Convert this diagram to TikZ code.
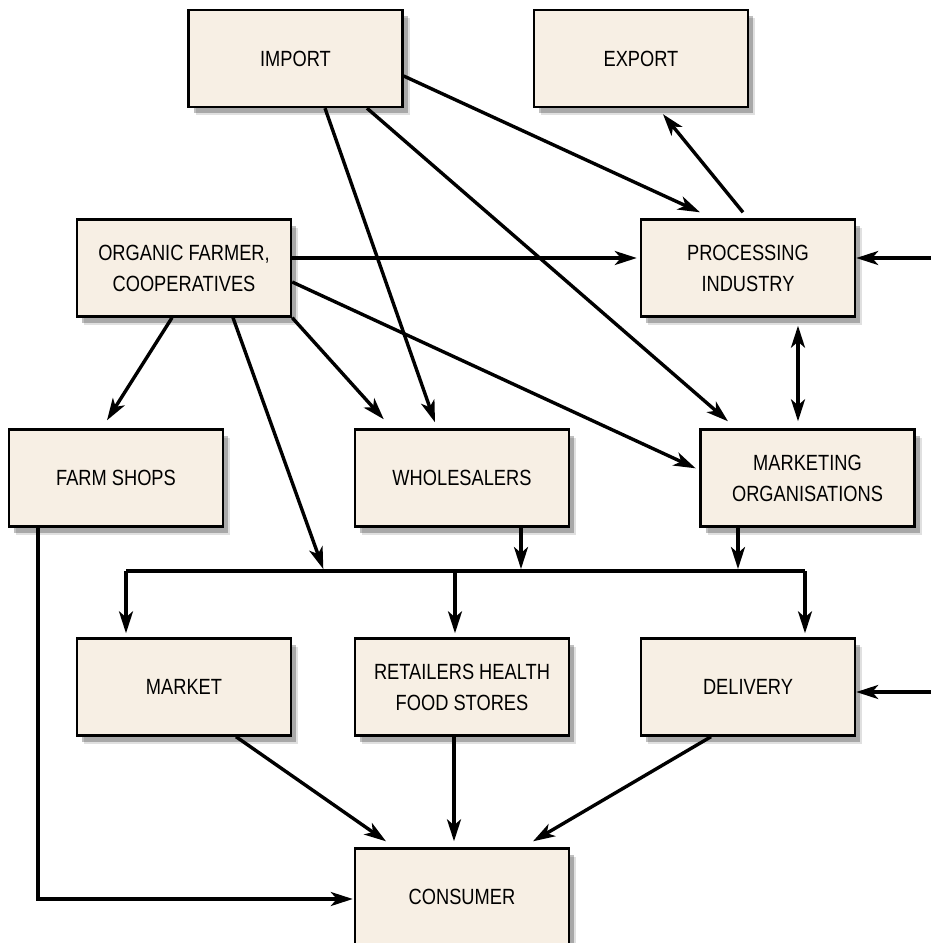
\documentclass[tikz,border=0pt]{standalone}
\usepackage{fontspec}
\setmainfont{Liberation Sans}[FakeStretch=0.83]
\usepackage{tikz}
\usetikzlibrary{arrows.meta,shadows,positioning}
\definecolor{boxfill}{RGB}{247,239,228}
\tikzset{
  box/.style={draw, line width=2.4pt, fill=boxfill, minimum width=214pt, minimum height=97pt,
    align=center, font=\fontsize{22}{31}\selectfont,
    drop shadow={shadow xshift=7pt, shadow yshift=-8pt, opacity=0.12, fill=black},
    drop shadow={shadow xshift=5pt, shadow yshift=-6pt, opacity=0.25, fill=black}},
  flow/.style={line width=3.4pt, -{Stealth[length=22pt,width=14pt,inset=6pt]}},
  dflow/.style={line width=3.4pt, {Stealth[length=22pt,width=14pt,inset=6pt]}-{Stealth[length=22pt,width=14pt,inset=6pt]}},
  busline/.style={line width=4.4pt}
}

\begin{document}
\begin{tikzpicture}[x=1pt,y=-1pt]
\useasboundingbox (0,0) rectangle (931,943);

\node[box] (import) at (295.5,58.5) {IMPORT};
\node[box] (export) at (641,58.5) {EXPORT};
\node[box] (farmer) at (184,268) {ORGANIC FARMER,\\COOPERATIVES};
\node[box] (processing) at (748,268) {PROCESSING\\INDUSTRY};
\node[box] (farmshops) at (116,478) {FARM SHOPS};
\node[box] (wholesalers) at (462,478) {WHOLESALERS};
\node[box] (marketing) at (807.5,478) {MARKETING\\ORGANISATIONS};
\node[box] (market) at (184,687) {MARKET};
\node[box] (retailers) at (462,687) {RETAILERS HEALTH\\FOOD STORES};
\node[box] (delivery) at (748,687) {DELIVERY};
\node[box] (consumer) at (462,897) {CONSUMER};

% distribution line
\coordinate (busW) at (126,571);
\coordinate (busM) at (455,571);
\coordinate (busE) at (805,571);
\coordinate (busin) at (324,571);
\coordinate (procin) at (931,258);
\coordinate (delin) at (931,692);

\draw[flow] ([yshift=-17.5pt]import.east) -- ([xshift=-48pt,yshift=6pt]processing.north);
\draw[flow] ([xshift=29.5pt]import.south) -- ([xshift=-27pt,yshift=6pt]wholesalers.north);
\draw[flow] ([xshift=71.5pt]import.south) -- ([xshift=-79.5pt,yshift=7pt]marketing.north);
\draw[flow] ([xshift=-5pt,yshift=6pt]processing.north) -- ([xshift=22pt,yshift=-6pt]export.south);
\draw[flow] (procin) -- ([yshift=10pt]processing.east);
\draw[dflow] ([xshift=50pt,yshift=-8pt]processing.south) -- ([xshift=-9.5pt,yshift=7pt]marketing.north);

\draw[flow, shorten >=3pt] ([yshift=10pt]farmer.east) -- ([yshift=10pt]processing.west);
\draw[flow, shorten >=4pt] ([yshift=-14pt]farmer.east) -- ([yshift=8pt]marketing.west);
\draw[flow] (farmer.south east) -- ([xshift=30pt,yshift=9pt]wholesalers.north west);
\draw[flow] ([xshift=-12pt]farmer.south) -- ([xshift=-9pt,yshift=8pt]farmshops.north);
\draw[flow, shorten >=2pt] ([xshift=49pt]farmer.south) -- (busin);

\draw[flow, shorten >=2pt] ([xshift=59pt]wholesalers.south) -- ([xshift=59pt]wholesalers.south |- busW);
\draw[flow, shorten >=2pt] ([xshift=-69.5pt]marketing.south) -- ([xshift=-69.5pt]marketing.south |- busW);

\draw[busline] (busW) -- (busE);
\draw[flow, shorten >=4pt] (busW) -- (busW |- market.north);
\draw[flow, shorten >=4pt] (busM) -- (busM |- retailers.north);
\draw[flow, shorten >=4pt] (busE) -- (busE |- delivery.north);
\draw[flow] (delin) -- ([yshift=-5pt]delivery.east);

\draw[flow] ([xshift=52pt]market.south) -- ([xshift=-76pt,yshift=6pt]consumer.north);
\draw[flow] ([xshift=-8pt]retailers.south) -- ([xshift=-8pt,yshift=6pt]consumer.north);
\draw[flow] ([xshift=-37pt]delivery.south) -- ([xshift=71pt,yshift=6pt]consumer.north);
\draw[flow, shorten >=1pt] ([xshift=-78pt]farmshops.south) |- ([yshift=-2pt]consumer.west);

\end{tikzpicture}
\end{document}
